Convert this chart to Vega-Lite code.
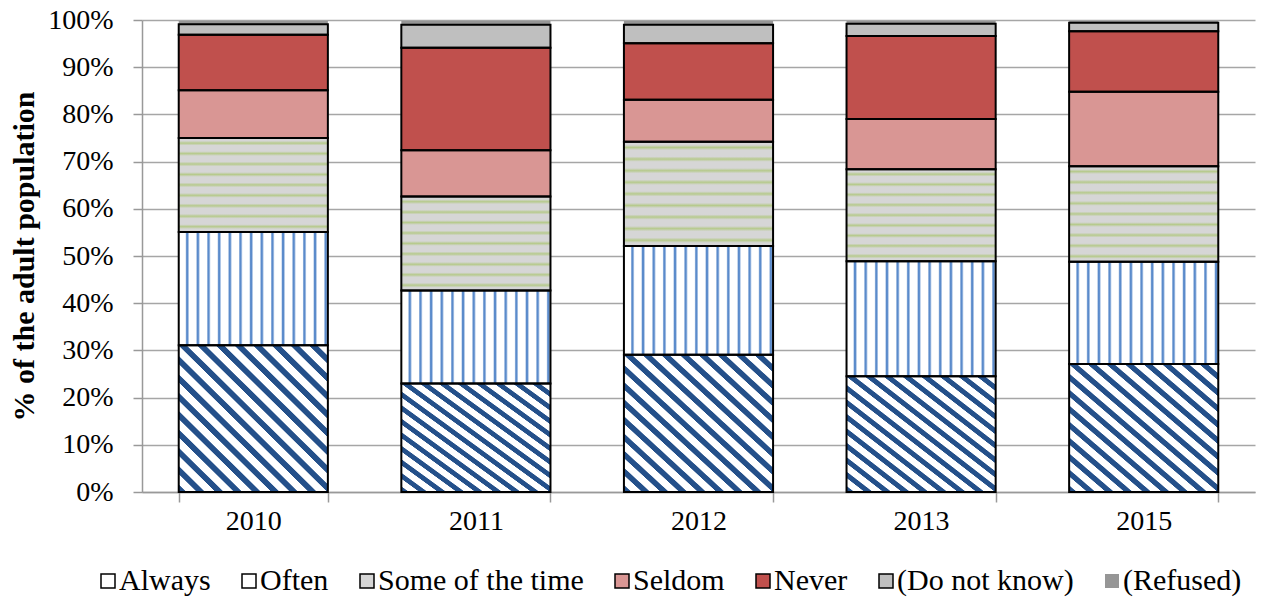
{
  "$schema": "https://vega.github.io/schema/vega-lite/v6.json",
  "width": 1113,
  "height": 472,
  "autosize": "none",
  "padding": {"left": 142, "top": 20, "right": 9, "bottom": 107},
  "background": "white",
  "data": {
    "values": [
      {"year": "2010", "cat": "Always", "k": 1, "v": 31.1},
      {"year": "2010", "cat": "Often", "k": 2, "v": 24.0},
      {"year": "2010", "cat": "Some of the time", "k": 3, "v": 19.9},
      {"year": "2010", "cat": "Seldom", "k": 4, "v": 10.1},
      {"year": "2010", "cat": "Never", "k": 5, "v": 11.8},
      {"year": "2010", "cat": "(Do not know)", "k": 6, "v": 2.2},
      {"year": "2010", "cat": "(Refused)", "k": 7, "v": 0.7},
      {"year": "2011", "cat": "Always", "k": 1, "v": 23.0},
      {"year": "2011", "cat": "Often", "k": 2, "v": 19.7},
      {"year": "2011", "cat": "Some of the time", "k": 3, "v": 19.9},
      {"year": "2011", "cat": "Seldom", "k": 4, "v": 9.8},
      {"year": "2011", "cat": "Never", "k": 5, "v": 21.7},
      {"year": "2011", "cat": "(Do not know)", "k": 6, "v": 4.9},
      {"year": "2011", "cat": "(Refused)", "k": 7, "v": 0.8},
      {"year": "2012", "cat": "Always", "k": 1, "v": 29.1},
      {"year": "2012", "cat": "Often", "k": 2, "v": 23.0},
      {"year": "2012", "cat": "Some of the time", "k": 3, "v": 22.1},
      {"year": "2012", "cat": "Seldom", "k": 4, "v": 8.9},
      {"year": "2012", "cat": "Never", "k": 5, "v": 12.0},
      {"year": "2012", "cat": "(Do not know)", "k": 6, "v": 3.9},
      {"year": "2012", "cat": "(Refused)", "k": 7, "v": 0.8},
      {"year": "2013", "cat": "Always", "k": 1, "v": 24.5},
      {"year": "2013", "cat": "Often", "k": 2, "v": 24.4},
      {"year": "2013", "cat": "Some of the time", "k": 3, "v": 19.5},
      {"year": "2013", "cat": "Seldom", "k": 4, "v": 10.6},
      {"year": "2013", "cat": "Never", "k": 5, "v": 17.6},
      {"year": "2013", "cat": "(Do not know)", "k": 6, "v": 2.6},
      {"year": "2013", "cat": "(Refused)", "k": 7, "v": 0.6},
      {"year": "2015", "cat": "Always", "k": 1, "v": 27.1},
      {"year": "2015", "cat": "Often", "k": 2, "v": 21.7},
      {"year": "2015", "cat": "Some of the time", "k": 3, "v": 20.2},
      {"year": "2015", "cat": "Seldom", "k": 4, "v": 15.8},
      {"year": "2015", "cat": "Never", "k": 5, "v": 12.8},
      {"year": "2015", "cat": "(Do not know)", "k": 6, "v": 1.8},
      {"year": "2015", "cat": "(Refused)", "k": 7, "v": 0.4}
    ]
  },
  "transform": [
    {"stack": "v", "groupby": ["year"], "sort": [{"field": "k", "order": "ascending"}], "as": ["y0", "y1"]}
  ],
  "encoding": {
    "x": {
      "field": "year", "type": "nominal",
      "scale": {"paddingInner": 0.33, "paddingOuter": 0.165},
      "axis": {"title": null, "labelAngle": 0, "tickBand": "extent", "tickSize": 10, "labelPadding": 5, "grid": false, "domainWidth": 1.5, "tickWidth": 1.5}
    },
    "y": {
      "field": "y1", "type": "quantitative",
      "scale": {"domain": [0, 100], "nice": false},
      "axis": {"title": "% of the adult population", "values": [0, 10, 20, 30, 40, 50, 60, 70, 80, 90, 100], "labelExpr": "datum.value + '%'", "grid": true, "gridWidth": 1.5, "tickSize": 9, "labelPadding": 20, "domainWidth": 1.5, "tickWidth": 1.5, "titlePadding": 8}
    },
    "y2": {"field": "y0"}
  },
  "layer": [
    {
      "mark": {"type": "bar"},
      "encoding": {
        "color": {
          "field": "cat", "type": "nominal",
          "scale": {
            "domain": ["Always", "Often", "Some of the time", "Seldom", "Never", "(Do not know)", "(Refused)"],
            "range": ["#ffffff", "#ffffff", "#d6d6d6", "#d99694", "#c0504d", "#bfbfbf", "#969696"]
          },
          "legend": {
            "title": null,
            "orient": "none",
            "legendX": -49,
            "legendY": 546,
            "direction": "horizontal",
            "symbolType": "square",
            "symbolSize": 196,
            "symbolOpacity": 1,
            "labelFont": "Liberation Serif",
            "labelFontSize": 30,
            "labelColor": "black",
            "labelOffset": -4,
            "labelLimit": 0,
            "columnPadding": 23,
            "encode": {
              "symbols": {
                "update": {
                  "stroke": {"signal": "datum.value === '(Refused)' ? 'transparent' : 'black'"},
                  "strokeWidth": {"value": 1.5}
                }
              }
            }
          }
        }
      }
    },
    {
      "transform": [{"filter": "datum.k === 1"}],
      "mark": {
        "type": "bar",
        "fill": {
          "gradient": "linear", "x1": 0, "y1": 1, "x2": 1, "y2": 0,
          "stops": [
            {"offset": 0, "color": "#24508a"}, {"offset": 0.024, "color": "#24508a"}, {"offset": 0.028, "color": "#ffffff"}, {"offset": 0.0595, "color": "#ffffff"},
            {"offset": 0.0625, "color": "#24508a"}, {"offset": 0.0865, "color": "#24508a"}, {"offset": 0.0905, "color": "#ffffff"}, {"offset": 0.122, "color": "#ffffff"},
            {"offset": 0.125, "color": "#24508a"}, {"offset": 0.149, "color": "#24508a"}, {"offset": 0.153, "color": "#ffffff"}, {"offset": 0.1845, "color": "#ffffff"},
            {"offset": 0.1875, "color": "#24508a"}, {"offset": 0.2115, "color": "#24508a"}, {"offset": 0.2155, "color": "#ffffff"}, {"offset": 0.247, "color": "#ffffff"},
            {"offset": 0.25, "color": "#24508a"}, {"offset": 0.274, "color": "#24508a"}, {"offset": 0.278, "color": "#ffffff"}, {"offset": 0.3095, "color": "#ffffff"},
            {"offset": 0.3125, "color": "#24508a"}, {"offset": 0.3365, "color": "#24508a"}, {"offset": 0.3405, "color": "#ffffff"}, {"offset": 0.372, "color": "#ffffff"},
            {"offset": 0.375, "color": "#24508a"}, {"offset": 0.399, "color": "#24508a"}, {"offset": 0.403, "color": "#ffffff"}, {"offset": 0.4345, "color": "#ffffff"},
            {"offset": 0.4375, "color": "#24508a"}, {"offset": 0.4615, "color": "#24508a"}, {"offset": 0.4655, "color": "#ffffff"}, {"offset": 0.497, "color": "#ffffff"},
            {"offset": 0.5, "color": "#24508a"}, {"offset": 0.524, "color": "#24508a"}, {"offset": 0.528, "color": "#ffffff"}, {"offset": 0.5595, "color": "#ffffff"},
            {"offset": 0.5625, "color": "#24508a"}, {"offset": 0.5865, "color": "#24508a"}, {"offset": 0.5905, "color": "#ffffff"}, {"offset": 0.622, "color": "#ffffff"},
            {"offset": 0.625, "color": "#24508a"}, {"offset": 0.649, "color": "#24508a"}, {"offset": 0.653, "color": "#ffffff"}, {"offset": 0.6845, "color": "#ffffff"},
            {"offset": 0.6875, "color": "#24508a"}, {"offset": 0.7115, "color": "#24508a"}, {"offset": 0.7155, "color": "#ffffff"}, {"offset": 0.747, "color": "#ffffff"},
            {"offset": 0.75, "color": "#24508a"}, {"offset": 0.774, "color": "#24508a"}, {"offset": 0.778, "color": "#ffffff"}, {"offset": 0.8095, "color": "#ffffff"},
            {"offset": 0.8125, "color": "#24508a"}, {"offset": 0.8365, "color": "#24508a"}, {"offset": 0.8405, "color": "#ffffff"}, {"offset": 0.872, "color": "#ffffff"},
            {"offset": 0.875, "color": "#24508a"}, {"offset": 0.899, "color": "#24508a"}, {"offset": 0.903, "color": "#ffffff"}, {"offset": 0.9345, "color": "#ffffff"},
            {"offset": 0.9375, "color": "#24508a"}, {"offset": 0.9615, "color": "#24508a"}, {"offset": 0.9655, "color": "#ffffff"}, {"offset": 0.997, "color": "#ffffff"},
            {"offset": 1, "color": "#24508a"}
          ]
        }
      }
    },
    {
      "transform": [{"filter": "datum.k === 2"}],
      "mark": {
        "type": "bar",
        "fill": {
          "gradient": "linear", "x1": 0, "y1": 0, "x2": 1, "y2": 0,
          "stops": [
            {"offset": 0, "color": "#ffffff"},
            {"offset": 0.044, "color": "#ffffff"}, {"offset": 0.053, "color": "#5b8bcb"}, {"offset": 0.06, "color": "#5b8bcb"}, {"offset": 0.0714, "color": "#ffffff"},
            {"offset": 0.1154, "color": "#ffffff"}, {"offset": 0.1244, "color": "#5b8bcb"}, {"offset": 0.1314, "color": "#5b8bcb"}, {"offset": 0.1429, "color": "#ffffff"},
            {"offset": 0.1869, "color": "#ffffff"}, {"offset": 0.1959, "color": "#5b8bcb"}, {"offset": 0.2029, "color": "#5b8bcb"}, {"offset": 0.2143, "color": "#ffffff"},
            {"offset": 0.2583, "color": "#ffffff"}, {"offset": 0.2673, "color": "#5b8bcb"}, {"offset": 0.2743, "color": "#5b8bcb"}, {"offset": 0.2857, "color": "#ffffff"},
            {"offset": 0.3297, "color": "#ffffff"}, {"offset": 0.3387, "color": "#5b8bcb"}, {"offset": 0.3457, "color": "#5b8bcb"}, {"offset": 0.3571, "color": "#ffffff"},
            {"offset": 0.4011, "color": "#ffffff"}, {"offset": 0.4101, "color": "#5b8bcb"}, {"offset": 0.4171, "color": "#5b8bcb"}, {"offset": 0.4286, "color": "#ffffff"},
            {"offset": 0.4726, "color": "#ffffff"}, {"offset": 0.4816, "color": "#5b8bcb"}, {"offset": 0.4886, "color": "#5b8bcb"}, {"offset": 0.5, "color": "#ffffff"},
            {"offset": 0.544, "color": "#ffffff"}, {"offset": 0.553, "color": "#5b8bcb"}, {"offset": 0.56, "color": "#5b8bcb"}, {"offset": 0.5714, "color": "#ffffff"},
            {"offset": 0.6154, "color": "#ffffff"}, {"offset": 0.6244, "color": "#5b8bcb"}, {"offset": 0.6314, "color": "#5b8bcb"}, {"offset": 0.6429, "color": "#ffffff"},
            {"offset": 0.6869, "color": "#ffffff"}, {"offset": 0.6959, "color": "#5b8bcb"}, {"offset": 0.7029, "color": "#5b8bcb"}, {"offset": 0.7143, "color": "#ffffff"},
            {"offset": 0.7583, "color": "#ffffff"}, {"offset": 0.7673, "color": "#5b8bcb"}, {"offset": 0.7743, "color": "#5b8bcb"}, {"offset": 0.7857, "color": "#ffffff"},
            {"offset": 0.8297, "color": "#ffffff"}, {"offset": 0.8387, "color": "#5b8bcb"}, {"offset": 0.8457, "color": "#5b8bcb"}, {"offset": 0.8571, "color": "#ffffff"},
            {"offset": 0.9011, "color": "#ffffff"}, {"offset": 0.9101, "color": "#5b8bcb"}, {"offset": 0.9171, "color": "#5b8bcb"}, {"offset": 0.9286, "color": "#ffffff"},
            {"offset": 0.9726, "color": "#ffffff"}, {"offset": 0.9816, "color": "#5b8bcb"}, {"offset": 0.9886, "color": "#5b8bcb"}, {"offset": 1, "color": "#ffffff"}
          ]
        }
      }
    },
    {
      "transform": [{"filter": "datum.k === 3"}],
      "mark": {
        "type": "bar",
        "fill": {
          "gradient": "linear", "x1": 0, "y1": 0, "x2": 0, "y2": 1,
          "stops": [
            {"offset": 0, "color": "#d6d6d6"},
            {"offset": 0.03, "color": "#d6d6d6"}, {"offset": 0.055, "color": "#b6ca8c"}, {"offset": 0.08, "color": "#d6d6d6"},
            {"offset": 0.1411, "color": "#d6d6d6"}, {"offset": 0.1661, "color": "#b6ca8c"}, {"offset": 0.1911, "color": "#d6d6d6"},
            {"offset": 0.2522, "color": "#d6d6d6"}, {"offset": 0.2772, "color": "#b6ca8c"}, {"offset": 0.3022, "color": "#d6d6d6"},
            {"offset": 0.3633, "color": "#d6d6d6"}, {"offset": 0.3883, "color": "#b6ca8c"}, {"offset": 0.4133, "color": "#d6d6d6"},
            {"offset": 0.4744, "color": "#d6d6d6"}, {"offset": 0.4994, "color": "#b6ca8c"}, {"offset": 0.5244, "color": "#d6d6d6"},
            {"offset": 0.5856, "color": "#d6d6d6"}, {"offset": 0.6106, "color": "#b6ca8c"}, {"offset": 0.6356, "color": "#d6d6d6"},
            {"offset": 0.6967, "color": "#d6d6d6"}, {"offset": 0.7217, "color": "#b6ca8c"}, {"offset": 0.7467, "color": "#d6d6d6"},
            {"offset": 0.8078, "color": "#d6d6d6"}, {"offset": 0.8328, "color": "#b6ca8c"}, {"offset": 0.8578, "color": "#d6d6d6"},
            {"offset": 0.9189, "color": "#d6d6d6"}, {"offset": 0.9439, "color": "#b6ca8c"}, {"offset": 0.9689, "color": "#d6d6d6"},
            {"offset": 1, "color": "#d6d6d6"}
          ]
        }
      }
    },
    {
      "transform": [{"filter": "datum.k <= 6"}],
      "mark": {"type": "bar", "fillOpacity": 0, "stroke": "black", "strokeWidth": 2}
    }
  ],
  "config": {
    "view": {"stroke": null},
    "font": "Liberation Serif",
    "axis": {
      "labelFont": "Liberation Serif",
      "labelFontSize": 28,
      "labelColor": "black",
      "titleFont": "Liberation Serif",
      "titleFontSize": 30,
      "titleFontWeight": "bold",
      "titleColor": "black",
      "domainColor": "#999999",
      "tickColor": "#999999",
      "gridColor": "#a6a6a6"
    }
  }
}
